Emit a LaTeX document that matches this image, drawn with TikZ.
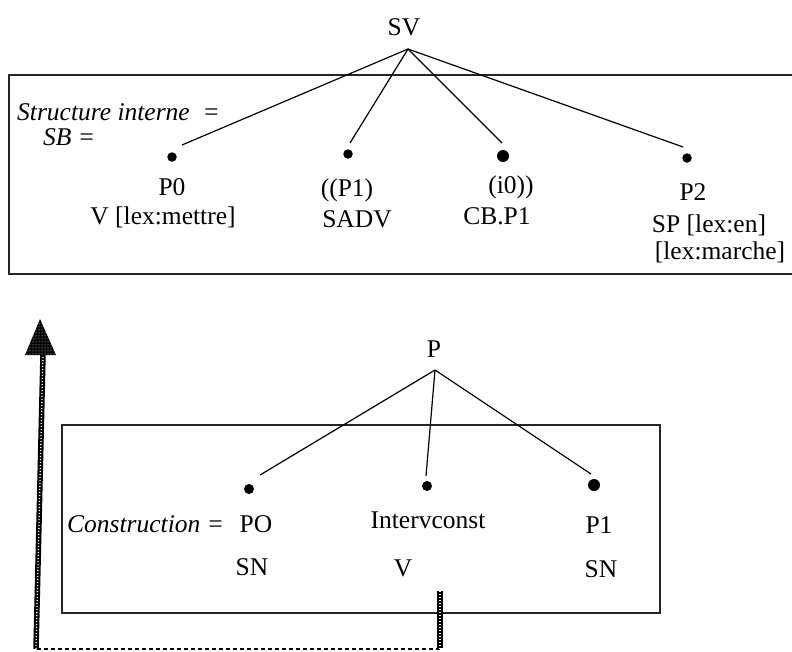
\documentclass[tikz,border=0pt]{standalone}
\usepackage{fontspec}
\setmainfont{Liberation Serif}
\usetikzlibrary{patterns}

\tikzset{
  lbl/.style={anchor=base, inner sep=0pt, font=\fontsize{25.5}{25.5}\selectfont},
  itlbl/.style={anchor=base west, inner sep=0pt, font=\fontsize{25.5}{25.5}\selectfont\itshape},
  frame/.style={draw=black!85, line width=1.7pt},
  branch/.style={draw=black, line width=1.2pt},
  leaf/.style={circle, fill=black, inner sep=0pt, minimum size=#1},
  leaf/.default=10pt,
  railouter/.style={draw=black, line width=#1},
  railinner/.style={draw=white, line width=1.3pt, dash pattern=on 1.2pt off 1.8pt},
  backline/.style={draw=black, line width=2.5pt, dash pattern=on 4.5pt off 2.5pt}
}

\begin{document}
\begin{tikzpicture}[x=1pt, y=-1pt]
\useasboundingbox (0,0) rectangle (792,651);

% ---------- upper tree: SV ----------
\draw[frame] (792,75) -- (9,75) -- (9,274) -- (792,274);

\node[lbl] (sv) at (404,35) {SV};
\coordinate (svtop) at (408,49);

\node[itlbl] (si) at (17,120) {Structure interne \ =};
\node[itlbl] (sb) at (43,145) {SB =};

\node[leaf=9.5pt] (d0) at (172,157) {};
\node[leaf=9.5pt] (d1) at (348,154) {};
\node[leaf=12pt] (d2) at (503,156) {};
\node[leaf=9.5pt] (d3) at (687,158) {};

\coordinate (e0) at (182,145);
\coordinate (e1) at (350,143);
\coordinate (e2) at (502,143);
\coordinate (e3) at (683,147);

\draw[branch] (svtop) -- (e0);
\draw[branch] (svtop) -- (e1);
\draw[branch] (svtop) -- (e2);
\draw[branch] (svtop) -- (e3);

\node[lbl] (p0) at (172,195) {P0};
\node[lbl] (v0) at (163,224) {V [lex:mettre]};
\node[lbl] (p1) at (347,196) {((P1)};
\node[lbl] (sadv) at (357,227) {SADV};
\node[lbl] (i0) at (511,193) {(i0))};
\node[lbl] (cb) at (497,224) {CB.P1};
\node[lbl] (p2) at (693,200) {P2};
\node[lbl] (sp) at (709,232) {SP [lex:en]};
\node[lbl] (lm) at (720,259) {[lex:marche]};

% ---------- lower tree: P ----------
\draw[frame] (62,425) rectangle (660,613);

\node[lbl] (p) at (434,357) {P};
\coordinate (ptop) at (435,370);

\node[leaf=10pt] (c0) at (249,489) {};
\node[leaf=10pt] (c1) at (427,486) {};
\node[leaf=12pt] (c2) at (594,485) {};

\coordinate (f0) at (260,475);
\coordinate (f1) at (426,476);
\coordinate (f2) at (591,474);

\draw[branch] (ptop) -- (f0);
\draw[branch] (ptop) -- (f1);
\draw[branch] (ptop) -- (f2);

\node[itlbl] (cons) at (67,532) {Construction =};
\node[lbl] (po) at (256,532) {PO};
\node[lbl] (sn0) at (252,575) {SN};
\node[lbl] (ic) at (428,528) {Intervconst};
\node[lbl] (vv) at (403,576) {V};
\node[lbl] (pp1) at (599,533) {P1};
\node[lbl] (sn1) at (601,577) {SN};

% ---------- return arrow from V up to the upper tree ----------
\coordinate (tap) at (440,591);
\coordinate (cr) at (440,649);
\coordinate (cl) at (36,649);
\coordinate (shtop) at (43,355);
\coordinate (tip) at (40,319);
\coordinate (hl) at (25,355);
\coordinate (hr) at (56,355);

\draw[backline] (cr) -- (cl);
\draw[railouter=6.5pt] (tap) -- ([yshift=1pt]cr);
\draw[railinner] (tap) -- (cr);
\draw[railouter=5.5pt] (cl) -- (shtop);
\draw[railinner] (cl) -- (shtop);
\fill[black] (tip) -- (hr) -- (hl) -- cycle;
\fill[pattern=dots, pattern color=white] (tip) -- (hr) -- (hl) -- cycle;
\end{tikzpicture}
\end{document}
